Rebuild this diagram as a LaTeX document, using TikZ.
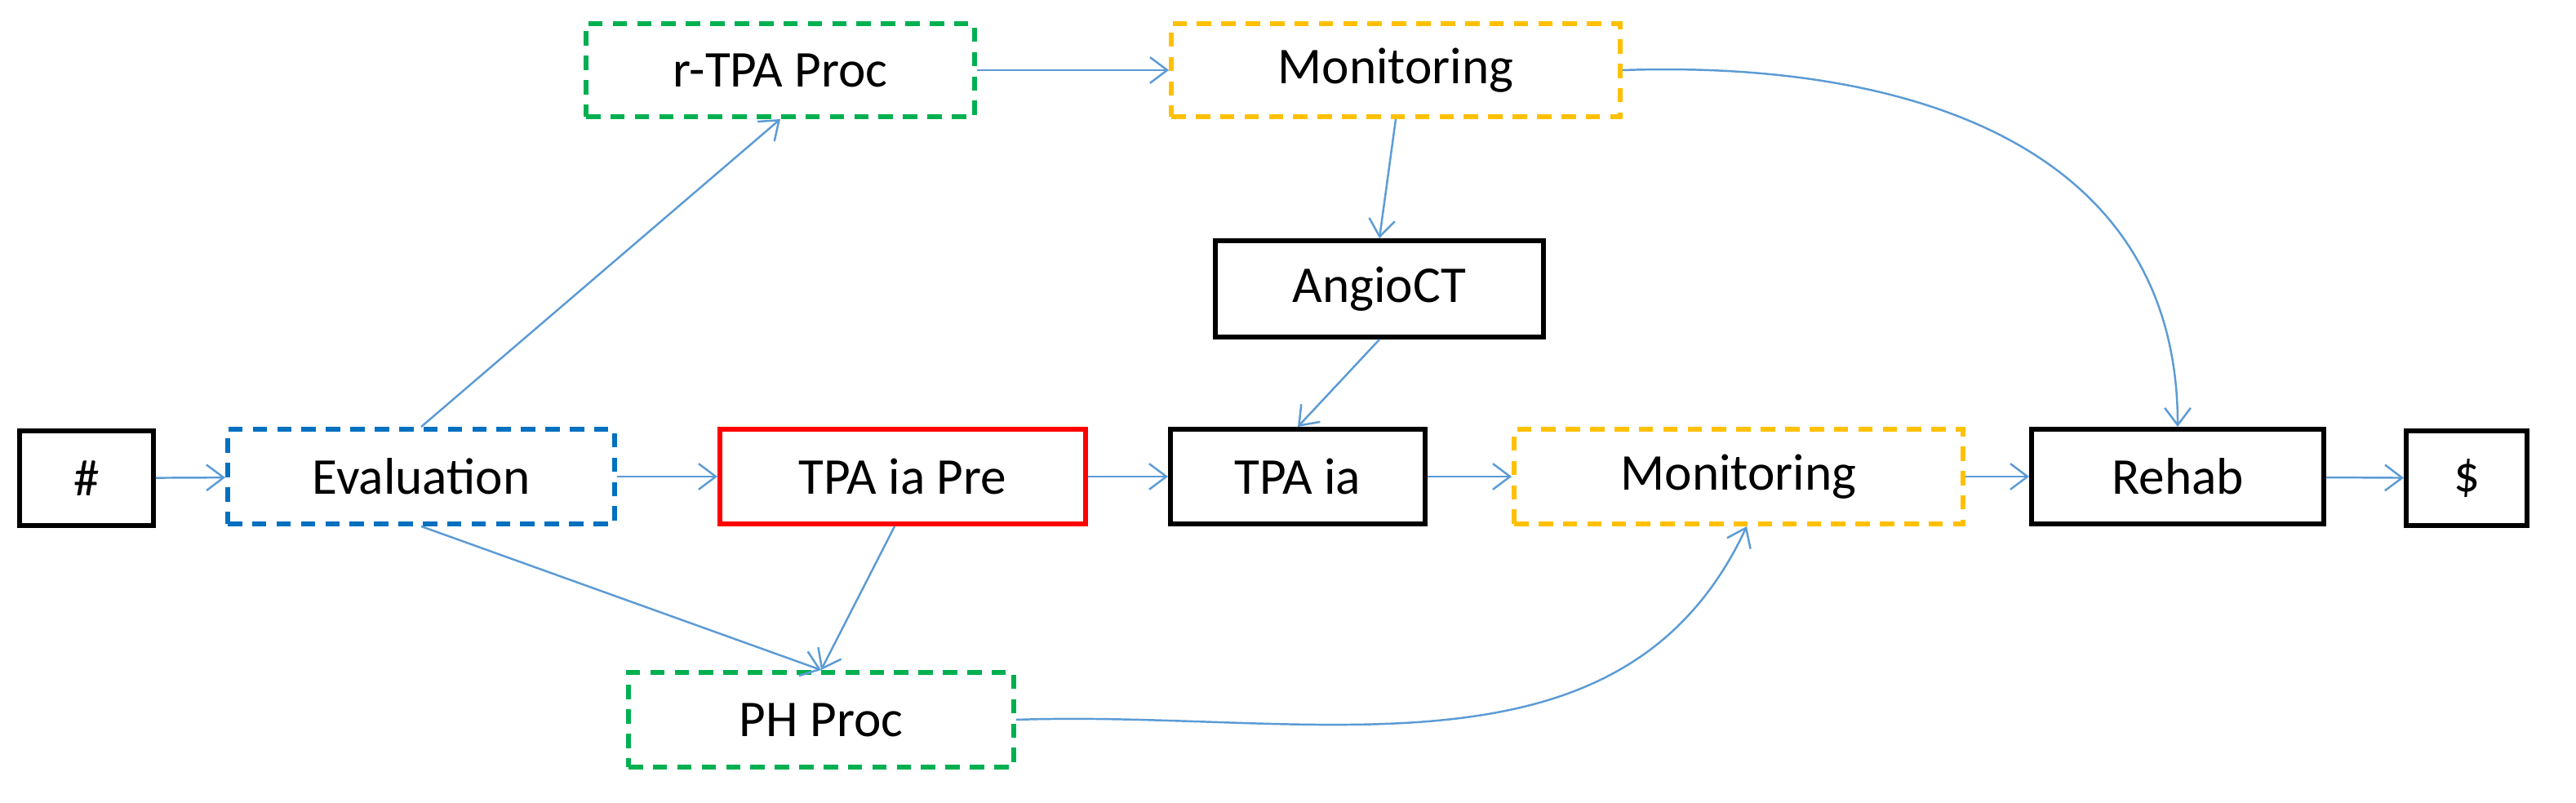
\documentclass[tikz,border=0pt]{standalone}
\usepackage{fontspec}
\setmainfont{Carlito}
\usetikzlibrary{arrows.meta}
\definecolor{cb}{RGB}{91,155,213}
\definecolor{cg}{RGB}{0,176,80}
\definecolor{co}{RGB}{255,192,0}
\definecolor{cbl}{RGB}{0,112,192}
\begin{document}
\begin{tikzpicture}[x=0.02cm,y=-0.02cm,
 box/.style={draw,line width=1.7pt,minimum height=1.16cm,inner sep=0pt,font=\fontsize{18}{20}\selectfont},
 dbox/.style={box,dash pattern=on 5pt off 3.5pt},
 ar/.style={draw=cb,line width=0.7pt,-{Straight Barb[length=6pt,width=9pt]}}]
\useasboundingbox (0,0) rectangle (1578,492);
\node[box,minimum width=1.64cm] (hash) at (53,293) {\#};
\node[dbox,draw=cbl,minimum width=4.74cm] (eval) at (258,292) {Evaluation};
\node[box,draw=red,minimum width=4.48cm] (pre) at (553,292) {TPA ia Pre};
\node[box,minimum width=3.12cm] (tpa) at (795,292) {TPA ia};
\node[dbox,draw=co,minimum width=5.5cm] (mon2) at (1065,292) {Monitoring};
\node[box,minimum width=3.58cm] (rehab) at (1334,292) {Rehab};
\node[box,minimum width=1.48cm] (dol) at (1511,293) {\$};
\node[dbox,draw=cg,minimum width=4.76cm,minimum height=1.14cm] (rtpa) at (478,43) {r-TPA Proc};
\node[dbox,draw=co,minimum width=5.5cm,minimum height=1.14cm] (mon1) at (855,43) {Monitoring};
\node[box,minimum width=4.02cm,minimum height=1.18cm] (angio) at (845,177) {AngioCT};
\node[dbox,draw=cg,minimum width=4.72cm] (ph) at (503,441) {PH Proc};
\draw[ar] (hash) -- (eval);
\draw[ar] (eval.north) -- (rtpa.south);
\draw[ar] (eval) -- (pre);
\draw[ar] (eval.south) -- (ph.north);
\draw[ar] (rtpa) -- (mon1);
\draw[ar] (mon1.south) -- (angio.north);
\draw[ar] (mon1.east) to[out=2,in=90,looseness=1.1] (rehab.north);
\draw[ar] (angio.south) -- (tpa.north);
\draw[ar] ([xshift=-0.1cm]pre.south) -- (ph.north);
\draw[ar] (pre) -- (tpa);
\draw[ar] (tpa) -- (mon2);
\draw[ar] (ph.east) to[out=2,in=-115] ([xshift=0.1cm]mon2.south);
\draw[ar] (mon2) -- (rehab);
\draw[ar] (rehab) -- (dol);
\end{tikzpicture}
\end{document}
